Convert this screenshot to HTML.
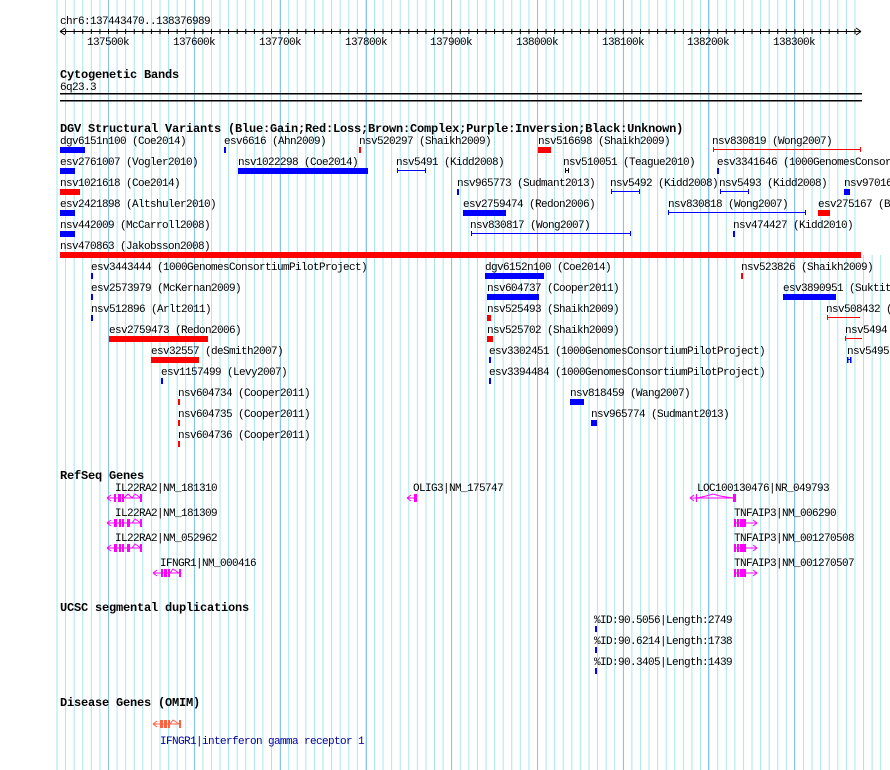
<!DOCTYPE html>
<html><head><meta charset="utf-8"><style>
html,body{margin:0;padding:0;background:#fff;}
svg{display:block;}
text{font-family:"Liberation Mono",monospace;font-size:11px;letter-spacing:-0.6px;fill:#000;}
.h{font-weight:bold;font-size:12px;letter-spacing:-0.2px;}
.c{text-anchor:middle;}
</style></head><body>
<svg width="890" height="770" viewBox="0 0 890 770" xmlns="http://www.w3.org/2000/svg">
<defs>
<pattern id="g" patternUnits="userSpaceOnUse" x="5.04" y="0" width="8.58" height="10">
<rect x="0" y="0" width="1" height="10" fill="#a8e6ee"/>
</pattern>
<pattern id="tk" patternUnits="userSpaceOnUse" x="5.04" y="0" width="8.58" height="10">
<rect x="0" y="0" width="1" height="10" fill="#000"/>
</pattern>
</defs>
<rect x="56" y="0" width="800" height="255" fill="url(#g)"/>
<rect x="56" y="255" width="826" height="515" fill="url(#g)"/>
<g fill="#88c4ea">
<rect x="108" y="0" width="1" height="770"/><rect x="194" y="0" width="1" height="770"/>
<rect x="280" y="0" width="1" height="770"/><rect x="366" y="0" width="1" height="770"/>
<rect x="451" y="0" width="1" height="770"/><rect x="537" y="0" width="1" height="770"/>
<rect x="623" y="0" width="1" height="770"/><rect x="708" y="0" width="1" height="770"/>
<rect x="794" y="0" width="1" height="770"/>
</g>
<!-- ruler -->
<text x="60" y="24">chr6:137443470..138376989</text>
<rect x="60" y="31" width="801" height="1" fill="#000"/>
<rect x="62" y="29" width="796" height="5" fill="url(#tk)"/>
<path d="M60 31.5 L65 28 M60 31.5 L65 35 M861 31.5 L856 28 M861 31.5 L856 35" stroke="#000" fill="none"/>
<text class="c" x="108" y="45">137500k</text><text class="c" x="194" y="45">137600k</text>
<text class="c" x="280" y="45">137700k</text><text class="c" x="366" y="45">137800k</text>
<text class="c" x="451" y="45">137900k</text><text class="c" x="537" y="45">138000k</text>
<text class="c" x="623" y="45">138100k</text><text class="c" x="708" y="45">138200k</text>
<text class="c" x="794" y="45">138300k</text>
<!-- cytobands -->
<text class="h" x="60" y="78">Cytogenetic Bands</text>
<text x="60" y="90">6q23.3</text>
<rect x="60" y="93" width="802" height="1.5" fill="#000"/>
<rect x="60" y="100" width="802" height="1.5" fill="#000"/>
<!-- DGV -->
<text class="h" x="60" y="132">DGV Structural Variants (Blue:Gain;Red:Loss;Brown:Complex;Purple:Inversion;Black:Unknown)</text>
<g>
<text x="60" y="144">dgv6151n100 (Coe2014)</text><text x="224" y="144">esv6616 (Ahn2009)</text><text x="359" y="144">nsv520297 (Shaikh2009)</text><text x="538" y="144">nsv516698 (Shaikh2009)</text><text x="712" y="144">nsv830819 (Wong2007)</text>
<text x="60" y="165">esv2761007 (Vogler2010)</text><text x="238" y="165">nsv1022298 (Coe2014)</text><text x="396" y="165">nsv5491 (Kidd2008)</text><text x="563" y="165">nsv510051 (Teague2010)</text><text x="717" y="165">esv3341646 (1000GenomesConsortiumPilotProject)</text>
<text x="60" y="186">nsv1021618 (Coe2014)</text><text x="457" y="186">nsv965773 (Sudmant2013)</text><text x="610" y="186">nsv5492 (Kidd2008)</text><text x="719" y="186">nsv5493 (Kidd2008)</text><text x="844" y="186">nsv970160</text>
<text x="60" y="207">esv2421898 (Altshuler2010)</text><text x="463" y="207">esv2759474 (Redon2006)</text><text x="668" y="207">nsv830818 (Wong2007)</text><text x="818" y="207">esv275167 (B</text>
<text x="60" y="228">nsv442009 (McCarroll2008)</text><text x="470" y="228">nsv830817 (Wong2007)</text><text x="733" y="228">nsv474427 (Kidd2010)</text>
<text x="60" y="249">nsv470863 (Jakobsson2008)</text>
<text x="91" y="270">esv3443444 (1000GenomesConsortiumPilotProject)</text><text x="485" y="270">dgv6152n100 (Coe2014)</text><text x="741" y="270">nsv523826 (Shaikh2009)</text>
<text x="91" y="291">esv2573979 (McKernan2009)</text><text x="487" y="291">nsv604737 (Cooper2011)</text><text x="783" y="291">esv3890951 (Suktitipat2014)</text>
<text x="91" y="312">nsv512896 (Arlt2011)</text><text x="487" y="312">nsv525493 (Shaikh2009)</text><text x="826" y="312">nsv508432 (</text>
<text x="109" y="333">esv2759473 (Redon2006)</text><text x="487" y="333">nsv525702 (Shaikh2009)</text><text x="845" y="333">nsv5494</text>
<text x="151" y="354">esv32557 (deSmith2007)</text><text x="489" y="354">esv3302451 (1000GenomesConsortiumPilotProject)</text><text x="847" y="354">nsv5495</text>
<text x="161" y="375">esv1157499 (Levy2007)</text><text x="489" y="375">esv3394484 (1000GenomesConsortiumPilotProject)</text>
<text x="178" y="396">nsv604734 (Cooper2011)</text><text x="570" y="396">nsv818459 (Wang2007)</text>
<text x="178" y="417">nsv604735 (Cooper2011)</text><text x="591" y="417">nsv965774 (Sudmant2013)</text>
<text x="178" y="438">nsv604736 (Cooper2011)</text>
</g>
<g fill="#0000ff">
<rect x="60" y="147" width="25" height="6"/><rect x="224" y="147" width="2" height="6"/>
<rect x="60" y="168" width="15" height="6"/><rect x="238" y="168" width="130" height="6"/><rect x="717" y="168" width="2" height="6"/>
<rect x="457" y="189" width="2" height="6"/><rect x="844" y="189" width="6" height="6"/>
<rect x="60" y="210" width="15" height="6"/><rect x="463" y="210" width="43" height="6"/>
<rect x="60" y="231" width="15" height="6"/><rect x="733" y="231" width="2" height="6"/>
<rect x="91" y="273" width="2" height="6"/><rect x="485" y="273" width="59" height="6"/>
<rect x="91" y="294" width="2" height="6"/><rect x="487" y="294" width="52" height="6"/><rect x="783" y="294" width="53" height="6"/>
<rect x="91" y="315" width="2" height="6"/>
<rect x="489" y="357" width="2" height="6"/><rect x="489" y="378" width="2" height="6"/><rect x="161" y="378" width="2" height="6"/>
<rect x="570" y="399" width="14" height="6"/><rect x="591" y="420" width="6" height="6"/>
<rect x="847" y="357" width="1.5" height="6"/><rect x="850" y="357" width="1.5" height="6"/><rect x="847" y="359" width="4" height="1"/>
</g>
<g fill="#ff0000">
<rect x="359" y="147" width="2" height="6"/><rect x="538" y="147" width="13" height="6"/>
<rect x="60" y="189" width="20" height="6"/><rect x="818" y="210" width="12" height="6"/>
<rect x="60" y="252" width="801" height="6"/>
<rect x="741" y="273" width="2" height="6"/>
<rect x="487" y="315" width="4" height="6"/><rect x="487" y="336" width="6" height="6"/>
<rect x="109" y="336" width="99" height="6"/><rect x="151" y="357" width="48" height="6"/>
<rect x="178" y="399" width="2" height="6"/><rect x="178" y="420" width="2" height="6"/><rect x="178" y="441" width="2" height="6"/>
</g>
<g stroke="#ff0000" fill="none">
<path d="M713 149.5H861 M713.5 147V152 M860.5 147V152"/>
<path d="M827 317.5H860 M827.5 315V320"/>
<path d="M845 338.5H862 M845.5 336V341"/>
</g>
<g stroke="#0000ff" fill="none">
<path d="M397 170.5H426 M397.5 168V173 M425.5 168V173"/>
<path d="M611 191.5H640 M611.5 189V194 M639.5 189V194"/>
<path d="M720 191.5H749 M720.5 189V194 M748.5 189V194"/>
<path d="M668 212.5H806 M668.5 210V215 M805.5 210V215"/>
<path d="M471 233.5H631 M471.5 231V236 M630.5 231V236"/>
</g>
<path d="M565.5 168V173 M568.5 168V173 M565 170.5H569" stroke="#000" fill="none"/>
<!-- RefSeq -->
<text class="h" x="60" y="479">RefSeq Genes</text>
<text x="115" y="491">IL22RA2|NM_181310</text><text x="413" y="491">OLIG3|NM_175747</text><text x="697" y="491">LOC100130476|NR_049793</text>
<text x="115" y="516">IL22RA2|NM_181309</text><text x="734" y="516">TNFAIP3|NM_006290</text>
<text x="115" y="541">IL22RA2|NM_052962</text><text x="734" y="541">TNFAIP3|NM_001270508</text>
<text x="160" y="566">IFNGR1|NM_000416</text><text x="734" y="566">TNFAIP3|NM_001270507</text>
<g stroke="#ff00ff" fill="none">
<path d="M107 498H141 M107 498L111 495 M107 498L111 501 M124 498L128 494L132 498L135 494L141 498"/>
<path d="M107 523H141 M107 523L111 520 M107 523L111 526 M132 523L135 519L141 523"/>
<path d="M107 548H141 M107 548L111 545 M107 548L111 551 M132 548L135 544L141 548"/>
<path d="M153 573H180 M153 573L157 570 M153 573L157 576 M170 573L173 569L179 573"/>
<path d="M407 498H416 M407 498L411 495 M407 498L411 501"/>
<path d="M690 498H735 M690 498L694 495 M690 498L694 501 M697 498L706 496L713 494L720 496L733 498"/>
<path d="M734 523H757 M757 523L753 520 M757 523L753 526"/>
<path d="M734 548H757 M757 548L753 545 M757 548L753 551"/>
<path d="M734 573H757 M757 573L753 570 M757 573L753 576"/>
</g>
<g fill="#ff00ff">
<rect x="114" y="494" width="2" height="8"/><rect x="118" y="494" width="3" height="8"/><rect x="122" y="494" width="2" height="8"/><rect x="140" y="494" width="2" height="8"/>
<rect x="114" y="519" width="3" height="8"/><rect x="119" y="519" width="2" height="8"/><rect x="122" y="519" width="2" height="8"/><rect x="127" y="519" width="3" height="8"/><rect x="140" y="519" width="2" height="8"/>
<rect x="114" y="544" width="3" height="8"/><rect x="119" y="544" width="2" height="8"/><rect x="122" y="544" width="2" height="8"/><rect x="127" y="544" width="3" height="8"/><rect x="140" y="544" width="2" height="8"/>
<rect x="161" y="569" width="2" height="8"/><rect x="164" y="569" width="3" height="8"/><rect x="168" y="569" width="2" height="8"/><rect x="179" y="569" width="2" height="8"/>
<rect x="414" y="494" width="3" height="8"/>
<rect x="696" y="494" width="1" height="8"/><rect x="733" y="494" width="3" height="8"/>
<rect x="734" y="519" width="2" height="8"/><rect x="737" y="519" width="2" height="8"/><rect x="740" y="519" width="6" height="8"/>
<rect x="734" y="544" width="2" height="8"/><rect x="737" y="544" width="2" height="8"/><rect x="740" y="544" width="6" height="8"/>
<rect x="734" y="569" width="2" height="8"/><rect x="737" y="569" width="2" height="8"/><rect x="740" y="569" width="6" height="8"/>
</g>
<!-- segdups -->
<text class="h" x="60" y="611">UCSC segmental duplications</text>
<text x="594" y="623">%ID:90.5056|Length:2749</text>
<text x="594" y="644">%ID:90.6214|Length:1738</text>
<text x="594" y="665">%ID:90.3405|Length:1439</text>
<g fill="#0000ff"><rect x="595" y="626" width="2" height="6"/><rect x="595" y="647" width="2" height="6"/><rect x="595" y="668" width="2" height="6"/></g>
<!-- OMIM -->
<text class="h" x="60" y="706">Disease Genes (OMIM)</text>
<path d="M153 724H180 M153 724L157 721 M153 724L157 727 M170 724L173 720L179 724" stroke="#ff6040" fill="none"/>
<g fill="#ff6040"><rect x="160" y="720" width="3" height="8"/><rect x="164" y="720" width="3" height="8"/><rect x="168" y="720" width="2" height="8"/><rect x="179" y="720" width="2" height="8"/></g>
<text x="160" y="744" style="fill:#0000a0">IFNGR1|interferon gamma receptor 1</text>
</svg>
</body></html>
